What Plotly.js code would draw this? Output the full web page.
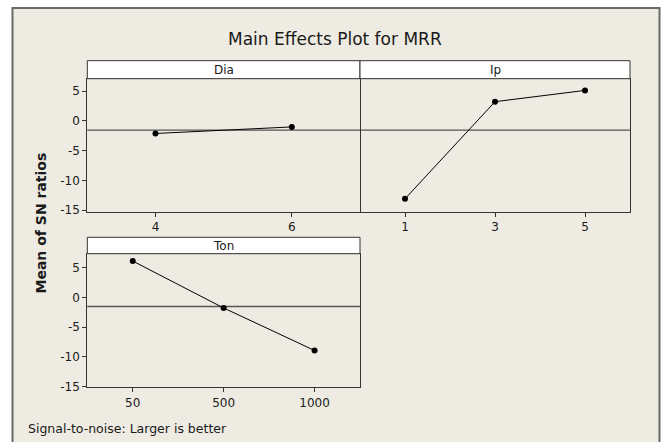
<!DOCTYPE html>
<html>
<head>
<meta charset="utf-8">
<script src="https://cdn.plot.ly/plotly-3.0.1.min.js"></script>
<style>html,body{margin:0;padding:0;background:#fff;}#chart{width:665px;height:442px;}</style>
</head>
<body>
<div id="chart"></div>
<script>
// ---- data ----
const diaLevels = [4, 6];
const diaMeans = [-2.1, -1.0];
const ipLevels = [1, 3, 5];
const ipMeans = [-13.1, 3.25, 5.15];
const tonLevels = ['50', '500', '1000'];
const tonMeans = [6.1, -1.8, -8.95];
const overallMean = -1.55;
const yTicks = [5, 0, -5, -10, -15];
const panelTitles = ['Dia', 'Ip', 'Ton'];

const W = 665, H = 442;
const px = v => v / W;
const py = v => 1 - v / H;

const FONT = 'DejaVu Sans, sans-serif';
const ink = '#1a1a1a';
const lineCol = '#333333';

// panel geometry (pixels)
const colL = 87.3, colM = 360, colR = 630;
const topHdr = 60.7, topData = 78.7, topBot = 211.7;
const botHdr = 237.3, botData = 253.7, botBot = 387.3;

function lineTrace(x, y, xa, ya) {
  return {
    x: x, y: y, xaxis: xa, yaxis: ya, type: 'scatter', mode: 'lines+markers',
    line: {color: '#000', width: 1},
    marker: {color: '#000', size: 6},
    hoverinfo: 'skip', showlegend: false, cliponaxis: false
  };
}

const traces = [
  lineTrace(diaLevels, diaMeans, 'x', 'y'),
  lineTrace(ipLevels, ipMeans, 'x2', 'y2'),
  lineTrace(tonLevels, tonMeans, 'x3', 'y3')
];

const axBase = {
  showline: true, mirror: true, linecolor: lineCol, linewidth: 1,
  showgrid: false, zeroline: false, fixedrange: true,
  ticks: 'outside', ticklen: 4, tickwidth: 1, tickcolor: lineCol,
  tickfont: {family: FONT, size: 12, color: ink}
};

const yAxisTop = Object.assign({}, axBase, {
  domain: [py(topBot), py(topData)], range: [-15.27, 7.12],
  tickvals: yTicks, ticktext: yTicks.map(String)
});

const layout = {
  width: W, height: H,
  margin: {l: 0, r: 0, t: 0, b: 0},
  paper_bgcolor: '#ffffff', plot_bgcolor: '#ffffff',
  showlegend: false,
  font: {family: FONT, color: ink},
  xaxis: Object.assign({}, axBase, {
    domain: [px(colL), px(colM)], range: [3, 7], tickvals: diaLevels, anchor: 'y'
  }),
  yaxis: Object.assign({}, yAxisTop, {anchor: 'x'}),
  xaxis2: Object.assign({}, axBase, {
    domain: [px(colM), px(colR)], range: [0, 6], tickvals: ipLevels, anchor: 'y2'
  }),
  yaxis2: Object.assign({}, yAxisTop, {anchor: 'x2', side: 'right', mirror: false,
    showticklabels: false, ticks: ''}),
  xaxis3: Object.assign({}, axBase, {
    domain: [px(colL), px(colM)], type: 'category', range: [-0.5, 2.5], anchor: 'y3'
  }),
  yaxis3: Object.assign({}, axBase, {
    domain: [py(botBot), py(botData)], range: [-15.15, 7.34], anchor: 'x3',
    tickvals: yTicks, ticktext: yTicks.map(String)
  }),
  shapes: [
    // outer beige frame
    {type: 'rect', xref: 'paper', yref: 'paper', layer: 'below',
     x0: px(12.5), x1: px(659.5), y0: py(450), y1: py(8),
     fillcolor: '#eeebe2', line: {color: '#6a6a6a', width: 2}},
    // header strips
    {type: 'rect', xref: 'paper', yref: 'paper', x0: px(colL), x1: px(colM), y0: py(topData), y1: py(topHdr),
     fillcolor: '#ffffff', line: {color: lineCol, width: 1}},
    {type: 'rect', xref: 'paper', yref: 'paper', x0: px(colM), x1: px(colR), y0: py(topData), y1: py(topHdr),
     fillcolor: '#ffffff', line: {color: lineCol, width: 1}},
    {type: 'rect', xref: 'paper', yref: 'paper', x0: px(colL), x1: px(colM), y0: py(botData), y1: py(botHdr),
     fillcolor: '#ffffff', line: {color: lineCol, width: 1}},
    // mean reference lines
    {type: 'line', xref: 'x domain', yref: 'y', x0: 0, x1: 1, y0: overallMean, y1: overallMean,
     line: {color: '#555', width: 1.3}, layer: 'below'},
    {type: 'line', xref: 'x2 domain', yref: 'y2', x0: 0, x1: 1, y0: overallMean, y1: overallMean,
     line: {color: '#555', width: 1.3}, layer: 'below'},
    {type: 'line', xref: 'x3 domain', yref: 'y3', x0: 0, x1: 1, y0: overallMean, y1: overallMean,
     line: {color: '#555', width: 1.3}, layer: 'below'}
  ],
  annotations: [
    {text: 'Main Effects Plot for MRR', xref: 'paper', yref: 'paper', x: px(335), y: py(39),
     xanchor: 'center', yanchor: 'middle', showarrow: false, font: {family: FONT, size: 17, color: ink}},
    {text: panelTitles[0], xref: 'paper', yref: 'paper', x: px((colL + colM) / 2), y: py((topHdr + topData) / 2),
     xanchor: 'center', yanchor: 'middle', showarrow: false, font: {family: FONT, size: 12, color: ink}},
    {text: panelTitles[1], xref: 'paper', yref: 'paper', x: px((colM + colR) / 2), y: py((topHdr + topData) / 2),
     xanchor: 'center', yanchor: 'middle', showarrow: false, font: {family: FONT, size: 12, color: ink}},
    {text: panelTitles[2], xref: 'paper', yref: 'paper', x: px((colL + colM) / 2), y: py((botHdr + botData) / 2),
     xanchor: 'center', yanchor: 'middle', showarrow: false, font: {family: FONT, size: 12, color: ink}},
    {text: '<b>Mean of SN ratios</b>', xref: 'paper', yref: 'paper', x: px(40), y: py(223.5),
     xanchor: 'center', yanchor: 'middle', textangle: -90, showarrow: false,
     font: {family: FONT, size: 14, color: ink}},
    {text: 'Signal-to-noise: Larger is better', xref: 'paper', yref: 'paper', x: px(26), y: py(428),
     xanchor: 'left', yanchor: 'middle', showarrow: false, font: {family: FONT, size: 12.5, color: ink}}
  ]
};

Plotly.newPlot('chart', traces, layout, {staticPlot: true, displayModeBar: false});
</script>
</body>
</html>
